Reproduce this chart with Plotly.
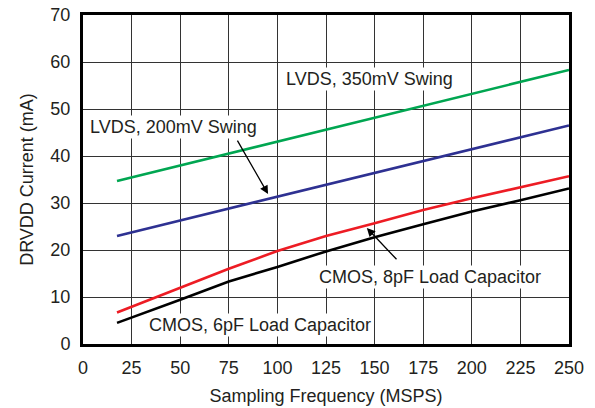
import plotly.graph_objects as go

freq = [17.5, 25, 50, 75, 100, 125, 150, 175, 200, 225, 250]
cmos8 = [6.7, 7.9, 11.9, 16.0, 19.8, 23.0, 25.7, 28.5, 31.0, 33.3, 35.7]
cmos6 = [4.5, 5.6, 9.4, 13.3, 16.4, 19.7, 22.7, 25.5, 28.2, 30.6, 33.1]

# straight LVDS lines: endpoints
lv_x = [17.5, 250]
lvds350_pts = [34.7, 58.3]
lvds200_pts = [23.0, 46.5]

xticks = [0, 25, 50, 75, 100, 125, 150, 175, 200, 225, 250]
yticks = [0, 10, 20, 30, 40, 50, 60, 70]

FONT = "Liberation Sans, Arial, Helvetica, sans-serif"
FS = 18

fig = go.Figure()
fig.add_trace(go.Scatter(x=lv_x, y=lvds350_pts, mode="lines", line=dict(color="#00A651", width=2.6)))
fig.add_trace(go.Scatter(x=lv_x, y=lvds200_pts, mode="lines", line=dict(color="#2E3192", width=2.6)))
fig.add_trace(go.Scatter(x=freq, y=cmos8, mode="lines", line=dict(color="#ED1C24", width=2.6)))
fig.add_trace(go.Scatter(x=freq, y=cmos6, mode="lines", line=dict(color="#000000", width=2.6)))

tfont = dict(family=FONT, size=FS, color="#231F20")
annots = [
    dict(x=147.6, y=56.4, text="LVDS, 350mV Swing"),
    dict(x=46.8, y=46.2, text="LVDS, 200mV Swing"),
    dict(x=178.5, y=14.3, text="CMOS, 8pF Load Capacitor"),
    dict(x=91.3, y=4.0, text="CMOS, 6pF Load Capacitor"),
]
for a in annots:
    fig.add_annotation(x=a["x"], y=a["y"], text=a["text"], showarrow=False,
                       font=tfont, bgcolor="white", borderpad=1)

# arrows
fig.add_annotation(x=95.2, y=31.9, ax=79.0, ay=43.6, axref="x", ayref="y",
                   text="", showarrow=True, arrowhead=2, arrowsize=1.3,
                   arrowwidth=1.3, arrowcolor="black")
fig.add_annotation(x=146.0, y=24.7, ax=162.0, ay=17.7, axref="x", ayref="y",
                   text="", showarrow=True, arrowhead=2, arrowsize=1.3,
                   arrowwidth=1.3, arrowcolor="black")

fig.update_layout(
    width=595, height=408,
    margin=dict(l=83, r=26, t=15, b=64),
    paper_bgcolor="white", plot_bgcolor="white",
    showlegend=False,
    font=dict(family=FONT, size=FS, color="#231F20"),
)
fig.update_xaxes(range=[0, 250], tickvals=xticks, ticktext=[str(v) for v in xticks],
                 showgrid=True, gridcolor="#333333", gridwidth=1.3,
                 showline=True, linecolor="black", linewidth=3, mirror=True,
                 zeroline=False, ticks="", ticklen=0, automargin=False,
                 ticklabelstandoff=5,
                 title=dict(text="Sampling Frequency (MSPS)", standoff=13, font=dict(size=FS)),
                 tickfont=dict(size=FS))
fig.update_yaxes(range=[0, 70], tickvals=yticks, ticktext=[str(v) for v in yticks],
                 showgrid=True, gridcolor="#333333", gridwidth=1.3,
                 showline=True, linecolor="black", linewidth=3, mirror=True,
                 zeroline=False, ticks="", ticklen=0, automargin=False,
                 ticklabelstandoff=6,
                 title=dict(text="DRVDD Current (mA)", standoff=13, font=dict(size=FS)),
                 tickfont=dict(size=FS))

fig.write_html("out.html", config={"displayModeBar": False},
               post_script="document.body.style.margin='0';")
